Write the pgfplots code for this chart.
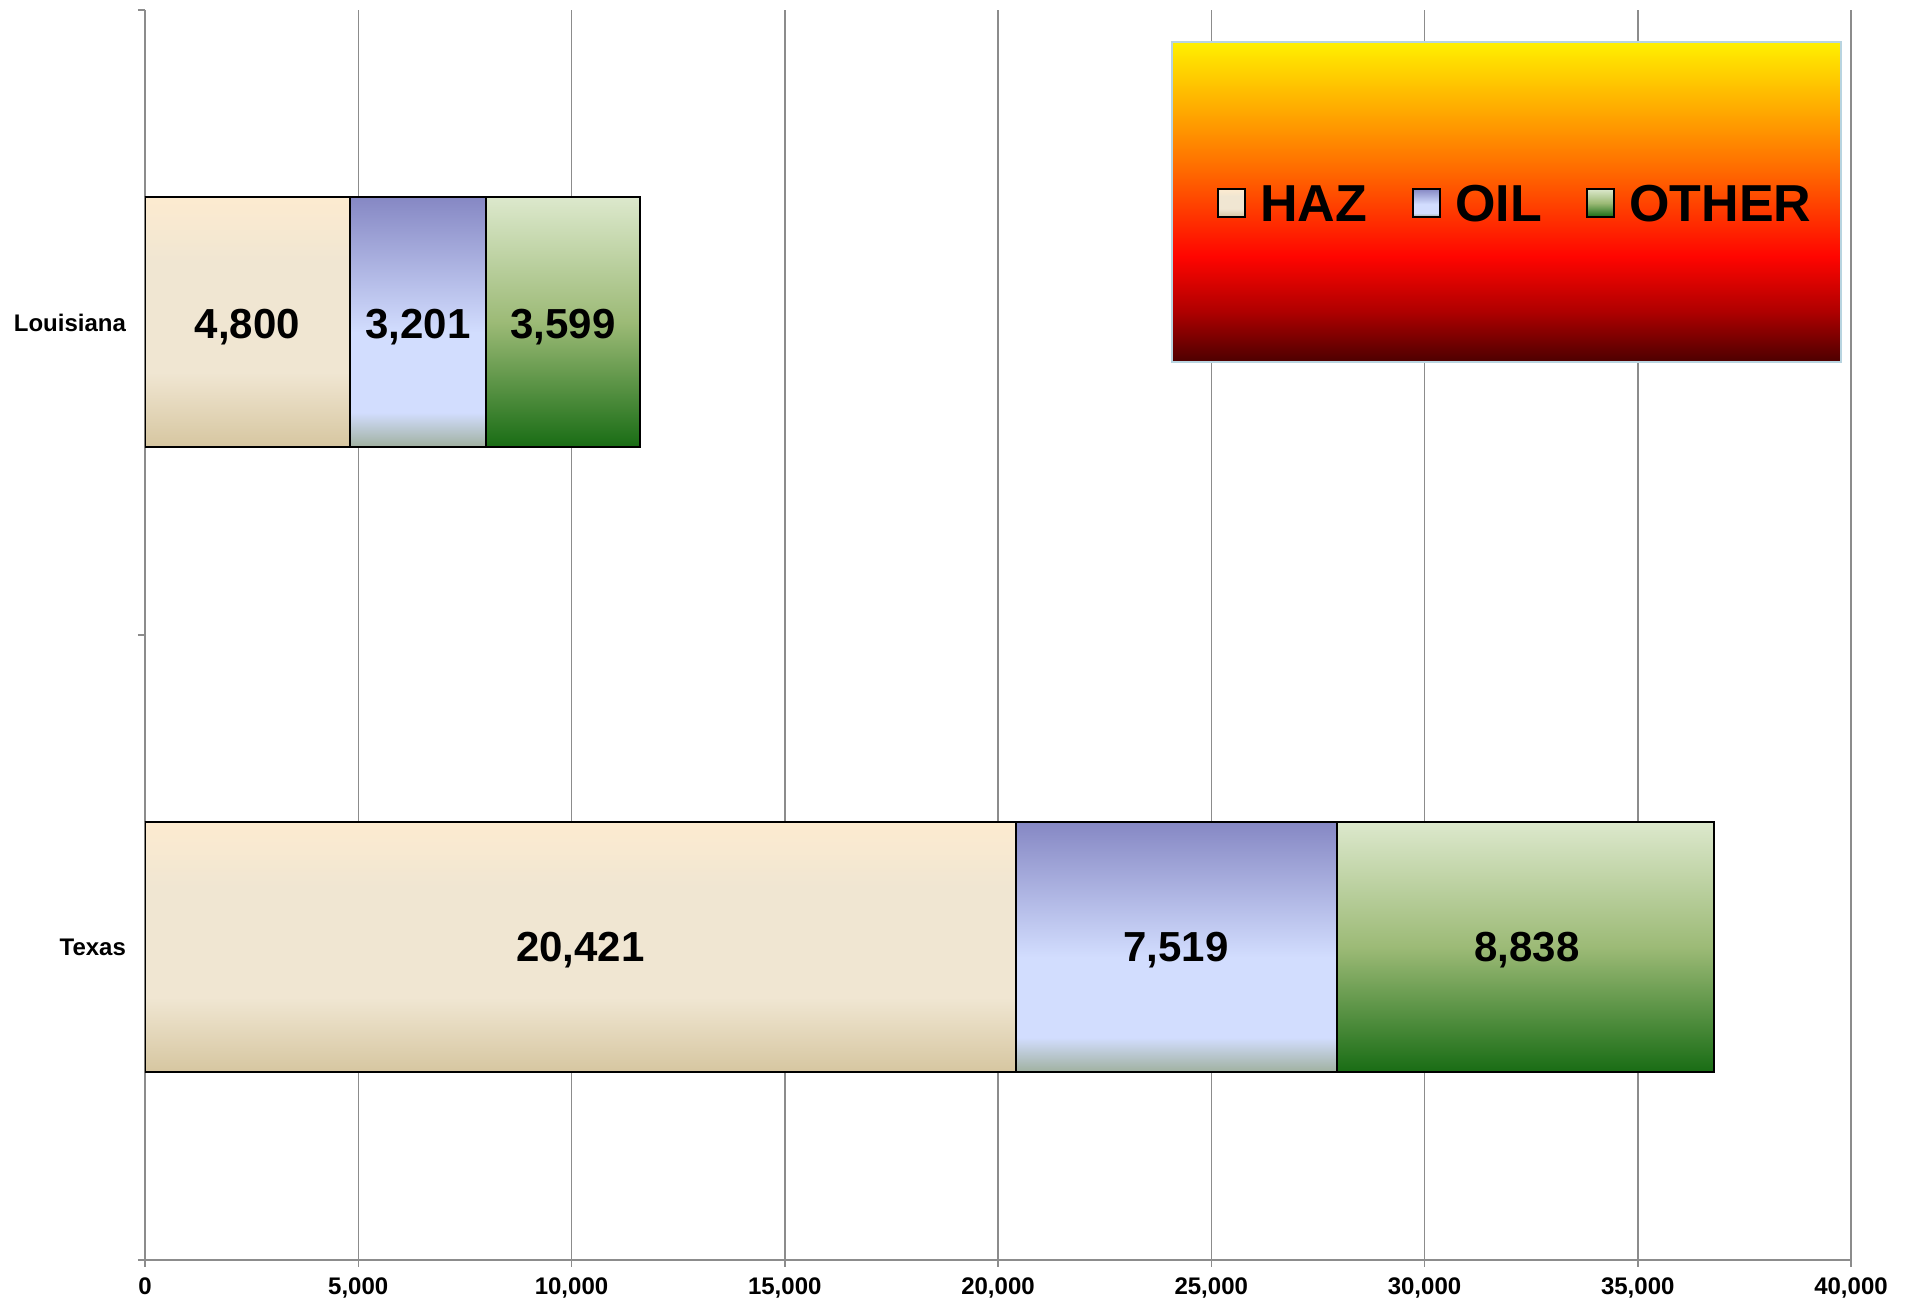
\documentclass[border=0pt]{standalone}
\usepackage{fontspec}
\setmainfont{Liberation Sans}
\usepackage{pgfplots}
\pgfplotsset{compat=1.18}

\definecolor{gridgray}{HTML}{8C8C8C}
\definecolor{legframe}{HTML}{B8D4E0}
\definecolor{hazT}{HTML}{FDEBD0}
\definecolor{hazM}{HTML}{F0E6D2}
\definecolor{hazB}{HTML}{D6C6A0}
\definecolor{oilT}{HTML}{8688C4}
\definecolor{oilM}{HTML}{D2DDFE}
\definecolor{oilB}{HTML}{9FB09E}
\definecolor{othT}{HTML}{DCE8CC}
\definecolor{othM}{HTML}{9CBA76}
\definecolor{othB}{HTML}{186C14}
\definecolor{legA}{HTML}{4C0000}
\definecolor{legB}{HTML}{B00000}
\definecolor{legC}{HTML}{FF0500}
\definecolor{legD}{HTML}{FF6A00}
\definecolor{legE}{HTML}{FF9A00}
\definecolor{legF}{HTML}{FFF000}

% vertical shadings, path is mapped onto 25bp..75bp
\pgfdeclareverticalshading{hazshade}{100bp}{color(0bp)=(hazB); color(25bp)=(hazB); color(40bp)=(hazM); color(62bp)=(hazM); color(75bp)=(hazT); color(100bp)=(hazT)}
\pgfdeclareverticalshading{oilshade}{100bp}{color(0bp)=(oilB); color(25bp)=(oilB); color(32bp)=(oilM); color(48bp)=(oilM); color(75bp)=(oilT); color(100bp)=(oilT)}
\pgfdeclareverticalshading{othshade}{100bp}{color(0bp)=(othB); color(25bp)=(othB); color(50bp)=(othM); color(75bp)=(othT); color(100bp)=(othT)}
\pgfdeclareverticalshading{legshade}{100bp}{color(0bp)=(legA); color(25bp)=(legA); color(33bp)=(legB); color(41.5bp)=(legC); color(55bp)=(legD); color(62bp)=(legE); color(75bp)=(legF); color(100bp)=(legF)}

\tikzset{seg/.style={draw=black, line width=1pt, shade, shading=#1}}
\pgfplotsset{
    basebar/.style={
        at={(0,0)}, anchor=south west,
        scale only axis,
        width=853pt, height=625pt,
        xbar stacked,
        bar width=0.4,
        xmin=0, xmax=40000,
        ymin=0.5, ymax=2.5,
    },
}
\newcommand{\barlab}{\fontsize{21}{21}\selectfont\bfseries}
\newcommand{\legfont}{\fontsize{26}{26}\selectfont\bfseries}

\begin{document}
\begin{tikzpicture}
\useasboundingbox (-72.5pt,-22.5pt) rectangle (883.5pt,630pt);
% Louisiana (with all the axis decoration)
\begin{axis}[
    basebar,
    axis lines=left,
    axis line style={-, gridgray, line width=0.75pt},
    xtick={0,5000,...,40000},
    scaled x ticks=false,
    xticklabel style={font=\fontsize{12}{12}\selectfont\bfseries, /pgf/number format/1000 sep={,}, /pgf/number format/assume math mode=true, yshift=-2pt},
    xmajorgrids,
    grid style={gridgray, line width=0.75pt},
    tick align=outside,
    major tick length=3.5pt,
    tick style={gridgray, line width=0.75pt},
    ytick={0.5,1.5,2.5},
    yticklabels={},
    extra y ticks={1,2},
    extra y tick labels={Texas,Louisiana},
    extra y tick style={major tick length=0pt, yticklabel style={font=\fontsize{12}{12}\selectfont\bfseries, xshift=-6pt}},
]
\addplot[seg=hazshade] coordinates {(4800,2)};
\addplot[seg=oilshade] coordinates {(3201,2)};
\addplot[seg=othshade] coordinates {(3599,2)};
\coordinate (L1) at (axis cs:2400,2);
\coordinate (L2) at (axis cs:6400.5,2);
\coordinate (L3) at (axis cs:9800.5,2);
\end{axis}
% Texas
\begin{axis}[basebar, hide axis]
\addplot[seg=hazshade] coordinates {(20421,1)};
\addplot[seg=oilshade] coordinates {(7519,1)};
\addplot[seg=othshade] coordinates {(8838,1)};
\coordinate (T1) at (axis cs:10210.5,1);
\coordinate (T2) at (axis cs:24170,1);
\coordinate (T3) at (axis cs:32399,1);
\end{axis}

\node[font=\barlab, yshift=-2.2pt] at (L1) {4,800};
\node[font=\barlab, yshift=-2.2pt] at (L2) {3,201};
\node[font=\barlab, yshift=-2.2pt] at (L3) {3,599};
\node[font=\barlab, yshift=-1.5pt] at (T1) {20,421};
\node[font=\barlab, yshift=-1.5pt] at (T2) {7,519};
\node[font=\barlab, yshift=-1.5pt] at (T3) {8,838};

% legend box
\path[shade, shading=legshade, draw=legframe, line width=0.75pt] (513.5pt,449pt) rectangle (848pt,609pt);
\path[seg=hazshade] (536.5pt,521.5pt) rectangle (550pt,535.5pt);
\path[seg=oilshade] (634pt,521.5pt) rectangle (647.5pt,535.5pt);
\path[seg=othshade] (721pt,521.5pt) rectangle (734.5pt,535.5pt);
\node[anchor=base west, inner sep=0pt, font=\legfont] at (557.5pt,519pt) {HAZ};
\node[anchor=base west, inner sep=0pt, font=\legfont] at (655pt,519pt) {OIL};
\node[anchor=base west, inner sep=0pt, font=\legfont] at (742pt,519pt) {OTHER};
\end{tikzpicture}
\end{document}
